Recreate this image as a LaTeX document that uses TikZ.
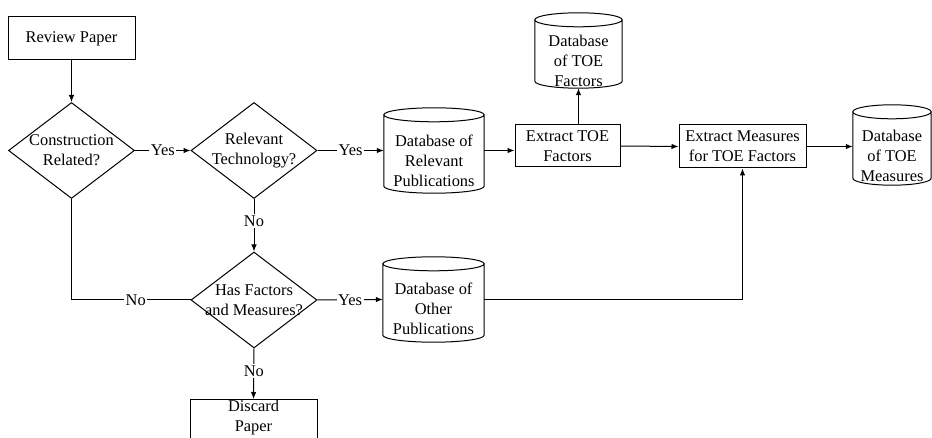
\documentclass[tikz,border=0pt]{standalone}
\usepackage{fontspec}
\setmainfont{Liberation Serif}
\newfontfamily\chartfont{Liberation Serif}
\usetikzlibrary{shapes.geometric,arrows.meta,calc}

% cylinder outline drawn around a (borderless) rectangular node
\newcommand\drawcyl[1]{%
  \draw[outline] let \p1=(#1.north west), \p2=(#1.south east), \n1={(\x2-\x1)/2} in
    ([yshift=-7pt]#1.north) ellipse [x radius=\n1, y radius=7pt]
    ([yshift=-7pt]#1.north west) -- ([yshift=7pt]#1.south west)
    arc [start angle=180, end angle=360, x radius=\n1, y radius=7pt]
    -- ([yshift=-7pt]#1.north east);}

\begin{document}
\begin{tikzpicture}[x=1pt, y=-1pt,
  font=\chartfont\fontsize{16.4}{20}\selectfont,
  outline/.style={line width=1pt},
  box/.style={draw, outline, rectangle, align=center, inner sep=0pt},
  ask/.style={draw, outline, diamond, inner sep=0pt, aspect=1.3,
              minimum width=126pt, minimum height=96pt},
  dbnode/.style={rectangle, draw=none, inner sep=0pt},
  inner/.style={align=center, inner sep=0pt},
  flow/.style={outline, -{Latex[length=7pt, width=5.5pt]}},
  plain/.style={outline},
  tag/.style={fill=white, inner sep=1.5pt}]

\useasboundingbox (0,0) rectangle (932,438);
\clip (0,0) rectangle (932,438);

% process boxes
\node[box, minimum width=127pt, minimum height=43pt] (rev) at (71.5,38.5) {Review Paper};
\node[box, minimum width=105pt, minimum height=42pt] (xtoe) at (567.5,146) {Extract TOE\\Factors};
\node[box, minimum width=127pt, minimum height=43pt] (xmeas) at (742.5,146.5) {Extract Measures\\for TOE Factors};
\node[box, minimum width=127pt, minimum height=52pt, anchor=north] (drop) at (253.5,399) {};
\node[inner, anchor=north] (droptxt) at (253.5,400) {Discard\\Paper};

% decisions
\node[ask] (con) at (71.5,150.5) {};
\node[inner] (contxt) at (con.center) {Construction\\Related?};
\node[ask] (rel) at (254,150.5) {};
\node[inner] (reltxt) at (rel.center) {Relevant\\Technology?};
\node[ask] (has) at (254,300) {};
\node[inner] (hastxt) at (has.center) {Has Factors\\and Measures?};

% databases
\node[dbnode, minimum width=100pt, minimum height=85pt] (dbrel) at (434,150.5) {};
\node[inner] (dbreltxt) at ([yshift=-10.5pt]dbrel.center) {Database of\\Relevant\\Publications};
\drawcyl{dbrel}
\node[dbnode, minimum width=101pt, minimum height=85pt] (dboth) at (433.5,299.5) {};
\node[inner] (dbothtxt) at ([yshift=-9.5pt]dboth.center) {Database of\\Other\\Publications};
\drawcyl{dboth}
\node[dbnode, minimum width=87pt, minimum height=75pt] (dbfac) at (578.5,50.5) {};
\node[inner] (dbfactxt) at ([yshift=-10pt]dbfac.center) {Database\\of TOE\\Factors};
\drawcyl{dbfac}
\node[dbnode, minimum width=78pt, minimum height=80pt] (dbmea) at (892,145) {};
\node[inner] (dbmeatxt) at ([yshift=-11pt]dbmea.center) {Database\\of TOE\\Measures};
\drawcyl{dbmea}

% connectors
\draw[flow] (rev.south) -- (con.north);
\draw[flow] (con.east) -- node[tag] (y1) {Yes} (rel.west);
\draw[flow] (rel.east) -- node[tag] (y2) {Yes} (dbrel.west);
\draw[flow] (dbrel.east) -- (dbrel.east -| xtoe.west);
\draw[flow] (xtoe.north -| dbfac.south) -- (dbfac.south);
\draw[flow] (xtoe.east) -- (xmeas.west);
\draw[flow] (xmeas.east) -- (xmeas.east -| dbmea.west);
\draw[flow] (rel.south) -- node[tag, pos=0.42] (n1) {No} (has.north);
\draw[plain] (con.south) |- node[tag, pos=0.77] (n2) {No} (has.west);
\draw[flow] (has.east) -- node[tag] (y3) {Yes} (dboth.west);
\draw[flow] (dboth.east) -| (xmeas.south);
\draw[flow] (has.south) -- node[tag, pos=0.45] (n3) {No} (drop.north);
\end{tikzpicture}
\end{document}
